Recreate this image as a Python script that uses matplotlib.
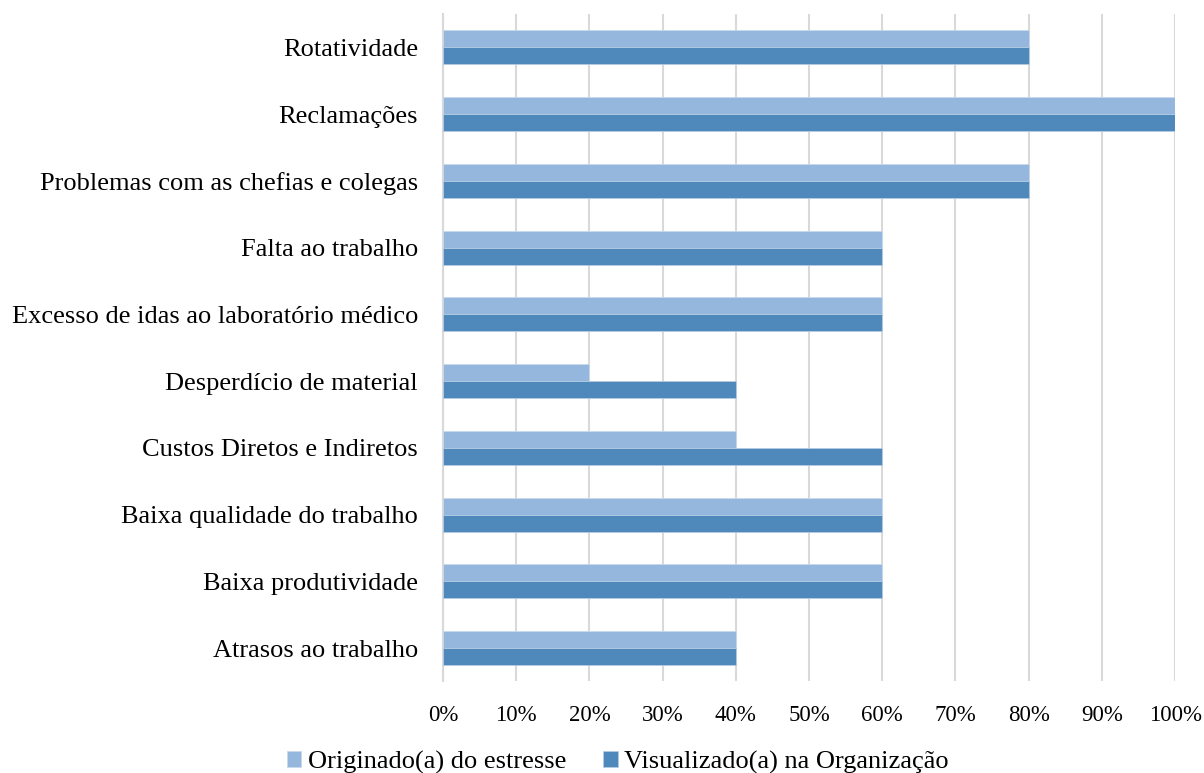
import numpy as np
import matplotlib
matplotlib.use("Agg")
import matplotlib.pyplot as plt
from matplotlib.ticker import PercentFormatter

plt.rcParams['font.family'] = ['Liberation Serif', 'DejaVu Serif']

# categorias de cima para baixo
categorias = ["Rotatividade", "Reclamações", "Problemas com as chefias e colegas",
              "Falta ao trabalho", "Excesso de idas ao laboratório médico",
              "Desperdício de material", "Custos Diretos e Indiretos",
              "Baixa qualidade do trabalho", "Baixa produtividade",
              "Atrasos ao trabalho"]
originado = [80, 100, 80, 60, 60, 20, 40, 60, 60, 40]
visualizado = [80, 100, 80, 60, 60, 40, 60, 60, 60, 40]
series_nomes = ["Originado(a) do estresse", "Visualizado(a) na Organização"]

cor_clara = "#95B7DE"
cor_escura = "#4F88BB"

fig = plt.figure(figsize=(12.04, 7.73), dpi=100)
ax = fig.add_axes([0.368, 0.1185, 0.608, 0.8635])

y = np.arange(len(categorias))
h = 0.255
ax.barh(y - h/2, originado, height=h, color=cor_clara, edgecolor="#C9D9EC", linewidth=0.6,
        label=series_nomes[0], zorder=3)
ax.barh(y + h/2, visualizado, height=h, color=cor_escura, edgecolor="#B5CCE3", linewidth=0.6,
        label=series_nomes[1], zorder=3)

ax.set_ylim(len(categorias) - 0.5, -0.5)
ax.set_xlim(0, 100)
ax.set_yticks(y)
ax.set_yticklabels(categorias, fontsize=19)
ax.set_xticks(np.arange(0, 101, 10))
ax.xaxis.set_major_formatter(PercentFormatter(decimals=0))
ax.tick_params(axis='x', labelsize=16.5, length=0, pad=17)
ax.tick_params(axis='y', length=0, pad=18)
ax.grid(axis='x', color="#D9D9D9", linewidth=1.5, zorder=0)
for s in ["top", "right", "bottom"]:
    ax.spines[s].set_visible(False)
ax.spines["left"].set_color("#D9D9D9")
ax.spines["left"].set_linewidth(1.5)

fig.legend(loc="center", bbox_to_anchor=(0.513, 0.014), ncol=2, frameon=False,
           fontsize=19, handlelength=0.55, handleheight=0.55, handletextpad=0.25,
           columnspacing=1.4)

fig.savefig("out.png", dpi=100)
